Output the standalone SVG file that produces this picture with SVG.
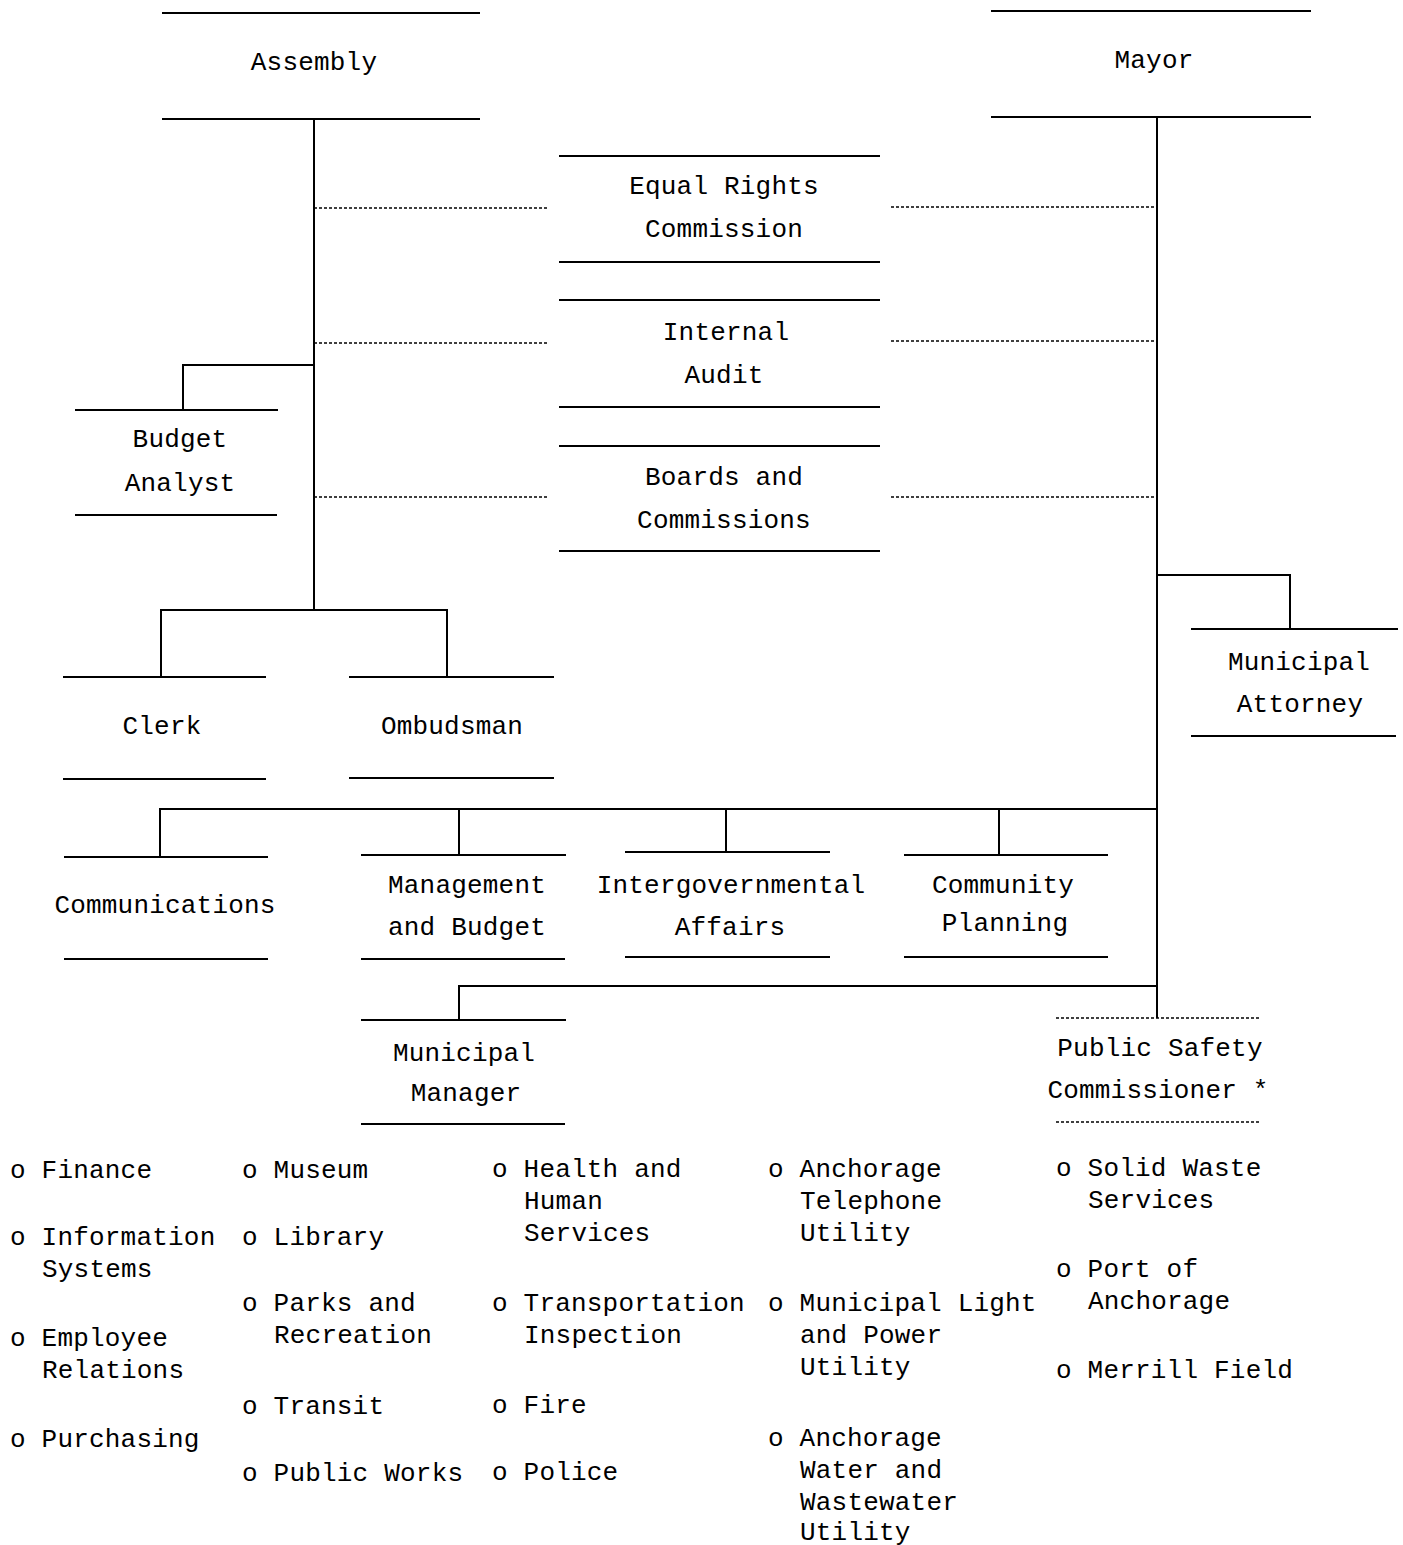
<svg xmlns="http://www.w3.org/2000/svg" width="1403" height="1545" viewBox="0 0 1403 1545">
<style>
text{font-family:"Liberation Mono","DejaVu Sans Mono",monospace;font-size:26px;letter-spacing:0.2px;fill:#000}
.c{text-anchor:middle}
.l{stroke:#000;stroke-width:2;fill:none}
.d{stroke:#000;stroke-width:1.5;stroke-dasharray:3 2;fill:none}
</style>
<rect width="1403" height="1545" fill="#fff"/>
<g id="connectors">
<path class="l" d="M314 119V610M161 677V610H447V677M314 365H183V410M1157 117V1018M1157 575H1290V629M160 857V809H1157M459 809V855M726 809V852M999 809V855M1157 986H459V1020"/>
<path class="d" d="M314 208H547M314 343H547M314 497H547M891 207H1157M891 341H1157M891 497H1157"/>
</g>
<g id="assembly"><path class="l" d="M162 13H480M162 119H480"/><text class="c" x="314" y="70">Assembly</text></g>
<g id="mayor"><path class="l" d="M991 11H1311M991 117H1311"/><text class="c" x="1154" y="68">Mayor</text></g>
<g id="equal-rights"><path class="l" d="M559 156H880M559 262H880"/><text class="c" x="724" y="194">Equal Rights</text><text class="c" x="724" y="237">Commission</text></g>
<g id="internal-audit"><path class="l" d="M559 300H880M559 407H880"/><text class="c" x="726" y="340">Internal</text><text class="c" x="724" y="383">Audit</text></g>
<g id="boards"><path class="l" d="M559 446H880M559 551H880"/><text class="c" x="724" y="485">Boards and</text><text class="c" x="724" y="528">Commissions</text></g>
<g id="budget-analyst"><path class="l" d="M75 410H278M75 515H277"/><text class="c" x="180" y="447">Budget</text><text class="c" x="180" y="491">Analyst</text></g>
<g id="clerk"><path class="l" d="M63 677H266M63 779H266"/><text class="c" x="162" y="734">Clerk</text></g>
<g id="ombudsman"><path class="l" d="M349 677H554M349 778H554"/><text class="c" x="452" y="734">Ombudsman</text></g>
<g id="municipal-attorney"><path class="l" d="M1191 629H1398M1191 736H1396"/><text class="c" x="1299" y="670">Municipal</text><text class="c" x="1300" y="712">Attorney</text></g>
<g id="communications"><path class="l" d="M64 857H268M64 959H268"/><text class="c" x="165" y="913">Communications</text></g>
<g id="management-budget"><path class="l" d="M361 855H566M361 959H565"/><text class="c" x="467" y="893">Management</text><text class="c" x="467" y="935">and Budget</text></g>
<g id="intergovernmental"><path class="l" d="M625 852H830M625 957H830"/><text class="c" x="731" y="893">Intergovernmental</text><text class="c" x="730" y="935">Affairs</text></g>
<g id="community-planning"><path class="l" d="M904 855H1108M904 957H1108"/><text class="c" x="1003" y="893">Community</text><text class="c" x="1005" y="931">Planning</text></g>
<g id="municipal-manager"><path class="l" d="M361 1020H566M361 1124H565"/><text class="c" x="464" y="1061">Municipal</text><text class="c" x="466" y="1101">Manager</text></g>
<g id="public-safety"><path class="d" d="M1056 1018H1260M1056 1122H1260"/><text class="c" x="1160" y="1056">Public Safety</text><text class="c" x="1158" y="1098">Commissioner *</text></g>
<g id="list-1">
<text x="10" y="1178">o Finance</text>
<text x="10" y="1245">o Information</text><text x="42" y="1277">Systems</text>
<text x="10" y="1346">o Employee</text><text x="42" y="1378">Relations</text>
<text x="10" y="1447">o Purchasing</text>
</g>
<g id="list-2">
<text x="242" y="1178">o Museum</text>
<text x="242" y="1245">o Library</text>
<text x="242" y="1311">o Parks and</text><text x="274" y="1343">Recreation</text>
<text x="242" y="1414">o Transit</text>
<text x="242" y="1481">o Public Works</text>
</g>
<g id="list-3">
<text x="492" y="1177">o Health and</text><text x="524" y="1209">Human</text><text x="524" y="1241">Services</text>
<text x="492" y="1311">o Transportation</text><text x="524" y="1343">Inspection</text>
<text x="492" y="1413">o Fire</text>
<text x="492" y="1480">o Police</text>
</g>
<g id="list-4">
<text x="768" y="1177">o Anchorage</text><text x="800" y="1209">Telephone</text><text x="800" y="1241">Utility</text>
<text x="768" y="1311">o Municipal Light</text><text x="800" y="1343">and Power</text><text x="800" y="1375">Utility</text>
<text x="768" y="1446">o Anchorage</text><text x="800" y="1478">Water and</text><text x="800" y="1510">Wastewater</text><text x="800" y="1540">Utility</text>
</g>
<g id="list-5">
<text x="1056" y="1176">o Solid Waste</text><text x="1088" y="1208">Services</text>
<text x="1056" y="1277">o Port of</text><text x="1088" y="1309">Anchorage</text>
<text x="1056" y="1378">o Merrill Field</text>
</g>
</svg>
